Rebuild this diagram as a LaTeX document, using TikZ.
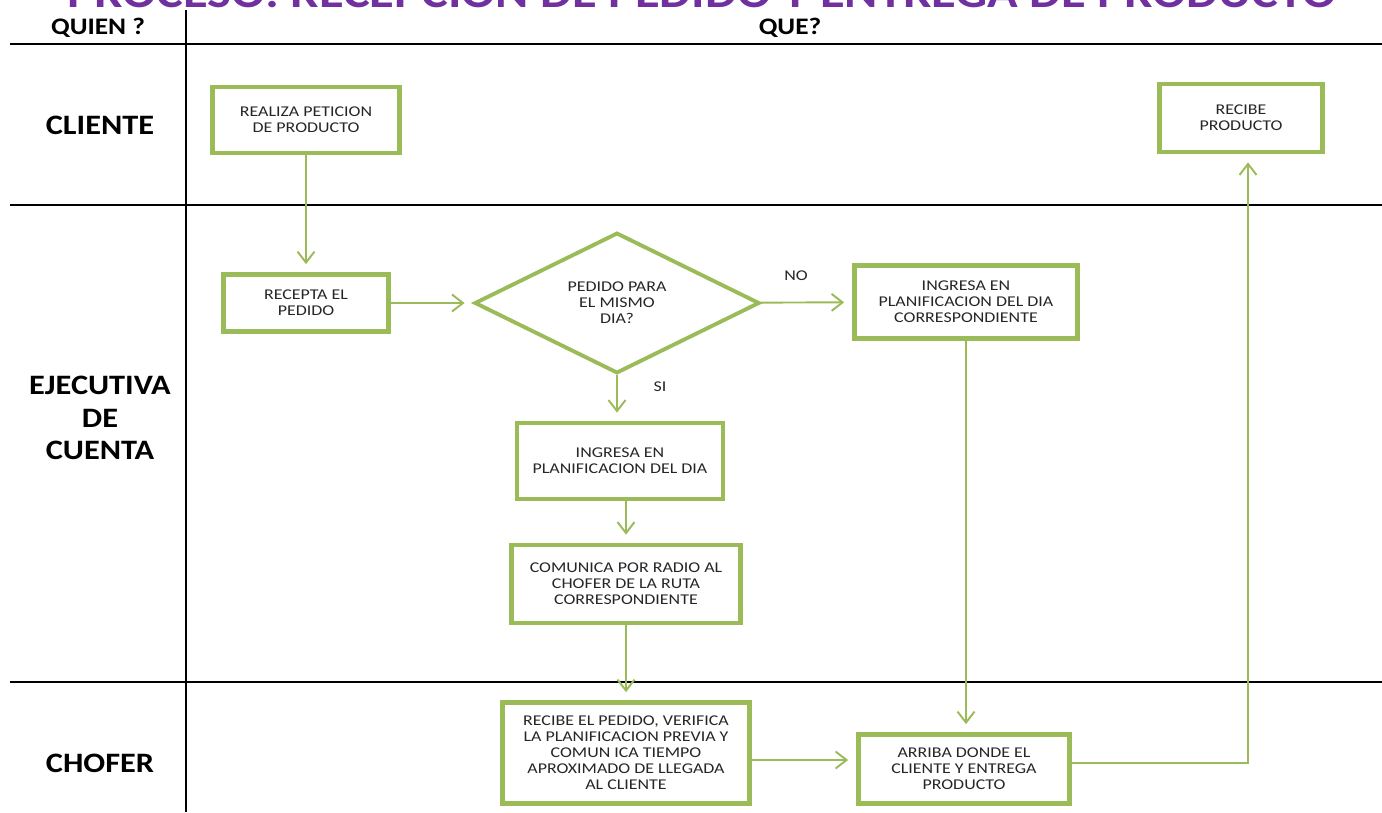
\documentclass[tikz,border=0pt]{standalone}
\usepackage{fontspec}
\setmainfont{Carlito}
\newfontfamily\boxfont[FakeStretch=1.2]{Carlito}
\newfontfamily\lanefont[FakeStretch=1.15]{Carlito}
\usetikzlibrary{shapes.geometric,arrows.meta}
\definecolor{boxgreen}{HTML}{9BBB59}
\definecolor{titlepurple}{HTML}{7030A0}

\begin{document}
\begin{tikzpicture}[x=0.02cm, y=-0.02cm,
    box/.style={draw=boxgreen, line width=2.7pt, align=center, text=black!85, inner sep=1pt, font=\boxfont\fontsize{8.5}{9.1}\selectfont},
    decision/.style={diamond, draw=boxgreen, line width=2.2pt, align=center, text=black!85, inner sep=0pt, font=\boxfont\fontsize{8.5}{9.1}\selectfont, minimum width=5.7cm, minimum height=2.6cm},
    flow/.style={draw=boxgreen, line width=1.1pt, -{Straight Barb[length=0.22cm,width=0.34cm]}, shorten >=0.16cm},
    lane/.style={font=\lanefont\fontsize{16}{18.7}\selectfont\bfseries, align=center},
    head/.style={font=\lanefont\fontsize{13.5}{16}\selectfont\bfseries},
    tag/.style={font=\boxfont\fontsize{8.5}{9.1}\selectfont, text=black!85}]
    \useasboundingbox (0,0) rectangle (1382,812);

    % title and grid
    \node[anchor=base, text=titlepurple, font=\lanefont\fontsize{25}{30}\selectfont\bfseries] (title) at (702,7) {PROCESO: RECEPCION DE PEDIDO Y ENTREGA DE PRODUCTO};
    \draw[line width=1.7pt] (10,44) -- (1382,44);
    \draw[line width=1.5pt] (10,205) -- (1382,205);
    \draw[line width=1.5pt] (10,682) -- (1382,682);
    \draw[line width=1.1pt] (186,10) -- (186,812);

    % headers
    \node[head] (quien) at (98,28) {QUIEN ?};
    \node[head] (que) at (790,28) {QUE?};
    \node[lane] (cliente) at (100,125) {CLIENTE};
    \node[lane] (ejecutiva) at (100,418) {EJECUTIVA\\DE\\CUENTA};
    \node[lane] (chofer) at (100,763) {CHOFER};

    % cliente
    \node[box, minimum width=3.74cm, minimum height=1.32cm] (realiza) at (306,120) {REALIZA PETICION\\DE PRODUCTO};
    \node[box, minimum width=3.26cm, minimum height=1.36cm] (recibeprod) at (1241,118) {RECIBE\\PRODUCTO};

    % ejecutiva de cuenta
    \node[box, minimum width=3.30cm, minimum height=1.14cm] (recepta) at (306,303) {RECEPTA EL\\PEDIDO};
    \node[decision] (mismodia) at (617,303) {PEDIDO PARA\\EL MISMO\\DIA?};
    \node[box, minimum width=4.46cm, minimum height=1.46cm] (ingcorr) at (966,302) {INGRESA EN\\PLANIFICACION DEL DIA\\CORRESPONDIENTE};
    \node[box, minimum width=4.12cm, minimum height=1.52cm] (ingdia) at (620,461) {INGRESA EN\\PLANIFICACION DEL DIA};
    \node[box, minimum width=4.58cm, minimum height=1.56cm] (comunica) at (626,584) {COMUNICA POR RADIO AL\\CHOFER DE LA RUTA\\CORRESPONDIENTE};
    \node[tag] (no) at (796,276) {NO};
    \node[tag] (si) at (660,387) {SI};

    % chofer
    \node[box, minimum width=4.94cm, minimum height=2.02cm] (recibeped) at (626,753) {RECIBE EL PEDIDO, VERIFICA\\LA PLANIFICACION PREVIA Y\\COMUN ICA TIEMPO\\APROXIMADO DE LLEGADA\\AL CLIENTE};
    \node[box, minimum width=4.22cm, minimum height=1.38cm] (arriba) at (964,769) {ARRIBA DONDE EL\\CLIENTE Y ENTREGA\\PRODUCTO};

    % flow
    \draw[flow] (realiza) -- (recepta);
    \draw[flow] (recepta) -- (mismodia);
    \draw[flow] (mismodia) -- (ingcorr);
    \draw[flow] (mismodia.south) -- (mismodia.south |- ingdia.north);
    \draw[flow] (ingdia.south -| comunica.north) -- (comunica.north);
    \draw[flow] (comunica) -- (recibeped);
    \draw[flow] (ingcorr) -- (ingcorr |- arriba.north);
    \draw[flow] ([yshift=-0.14cm]recibeped.east) -- ([yshift=-0.14cm]recibeped.east -| arriba.west);
    \draw[flow] ([yshift=0.12cm]arriba.east) -| ([xshift=0.14cm]recibeprod.south);
\end{tikzpicture}
\end{document}
